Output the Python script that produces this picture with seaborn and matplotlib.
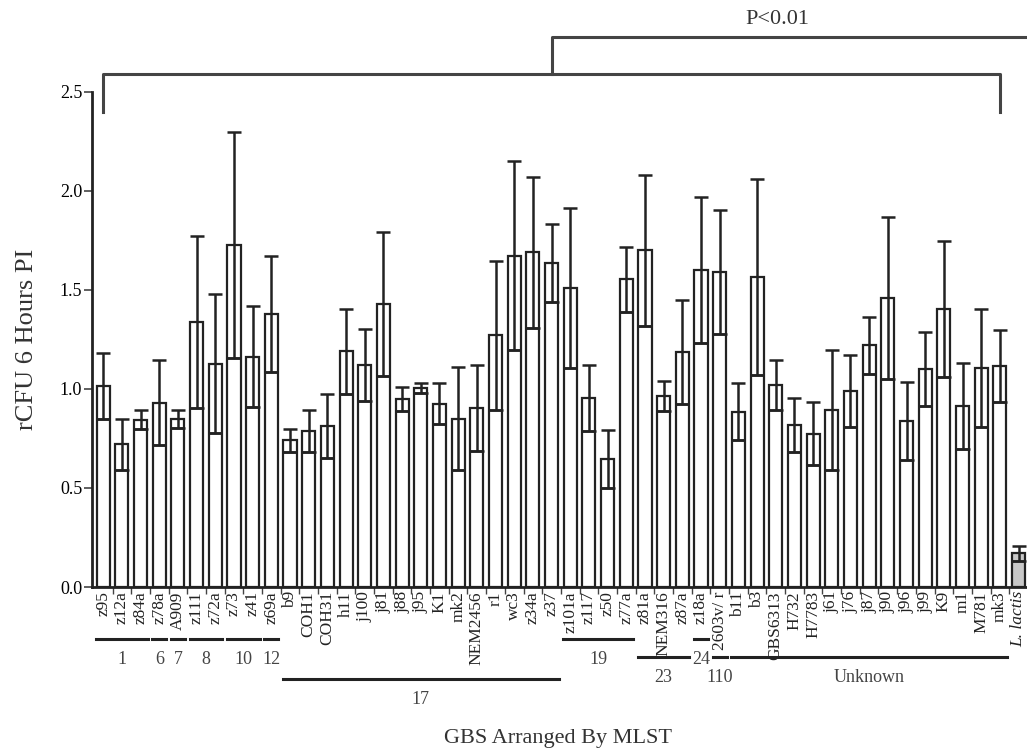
import numpy as np
import pandas as pd
import matplotlib
matplotlib.use("Agg")
import matplotlib.pyplot as plt
import seaborn as sns

# -- data --
strains = ["z95", "z12a", "z84a", "z78a", "A909", "z111", "z72a", "z73", "z41", "z69a",
           "b9", "COH1", "COH31", "h11", "j100", "j81", "j88", "j95", "K1", "mk2",
           "NEM2456", "r1", "wc3", "z34a", "z37", "z101a", "z117", "z50", "z77a", "z81a",
           "NEM316", "z87a", "z18a", "2603v/ r", "b11", "b3", "GBS6313", "H732", "H7783", "j61",
           "j76", "j87", "j90", "j96", "j99", "K9", "m1", "M781", "mk3", "L. lactis"]
rcfu = [1.015, 0.72, 0.845, 0.93, 0.848, 1.338, 1.128, 1.726, 1.163, 1.379,
        0.741, 0.788, 0.815, 1.19, 1.12, 1.428, 0.949, 1.005, 0.926, 0.85,
        0.906, 1.271, 1.672, 1.69, 1.636, 1.51, 0.955, 0.646, 1.554, 1.70,
        0.963, 1.187, 1.601, 1.591, 0.886, 1.564, 1.018, 0.818, 0.774, 0.894,
        0.988, 1.221, 1.46, 0.838, 1.101, 1.404, 0.914, 1.106, 1.116, 0.17]
sem = [0.165, 0.13, 0.048, 0.215, 0.046, 0.435, 0.35, 0.57, 0.255, 0.295,
       0.057, 0.105, 0.162, 0.215, 0.183, 0.363, 0.059, 0.025, 0.103, 0.261,
       0.217, 0.377, 0.477, 0.38, 0.195, 0.402, 0.168, 0.145, 0.163, 0.382,
       0.075, 0.263, 0.37, 0.313, 0.143, 0.495, 0.126, 0.138, 0.16, 0.301,
       0.182, 0.145, 0.41, 0.198, 0.188, 0.343, 0.217, 0.296, 0.18, 0.037]

# MLST groups: label, first strain, last strain, row below the axis
mlst_labels = ["1", "6", "7", "8", "10", "12", "17", "19", "23", "24", "110", "Unknown"]
mlst_first = ["z95", "z78a", "A909", "z111", "z73", "z69a", "b9", "z101a", "z81a", "z18a", "2603v/ r", "b11"]
mlst_last = ["z84a", "z78a", "A909", "z72a", "z41", "z69a", "z37", "z77a", "z87a", "z18a", "2603v/ r", "mk3"]
mlst_row = [0, 0, 0, 0, 0, 0, 2, 0, 1, 0, 1, 1]

df = pd.DataFrame({"strain": strains, "rcfu": rcfu, "sem": sem})
fill = {s: "white" for s in strains}
fill["L. lactis"] = "#c8c8c8"

ink = "#222222"
plt.rcParams["font.family"] = ["Liberation Serif", "DejaVu Serif"]

fig = plt.figure(figsize=(10.27, 7.5), dpi=100)
ax = fig.add_axes([92 / 1027, 1 - 587 / 750, 935 / 1027, 495 / 750])

sns.barplot(data=df, x="strain", y="rcfu", hue="strain", palette=fill, legend=False,
            width=0.7, edgecolor=ink, linewidth=1.6, ax=ax)

xs = np.arange(len(strains))
vals = np.array(rcfu)
errs = np.array(sem)
ax.errorbar(xs, vals, yerr=errs, fmt="none", ecolor=ink, elinewidth=1.8,
            capsize=5, capthick=1.8, zorder=3)
# lower bound drawn across the whole bar
ax.hlines(vals - errs, xs - 0.35, xs + 0.35, color=ink, linewidth=1.8, zorder=3)

ax.set_xlim(-0.6, len(strains) - 0.55)
ax.set_ylim(0, 2.5)
ax.set_yticks([0, 0.5, 1.0, 1.5, 2.0, 2.5])
ax.set_yticklabels(["0.0", "0.5", "1.0", "1.5", "2.0", "2.5"])
ax.tick_params(axis="y", labelsize=13, length=6, width=1.2, color="#444444", pad=1)
ax.tick_params(axis="x", which="major", length=0, labelsize=12.5, rotation=90, pad=3)
ax.set_xticks(xs[:-1] + 0.5, minor=True)
ax.tick_params(axis="x", which="minor", length=5, width=1.0, color="#444444")
for lab in ax.get_xticklabels():
    lab.set_color("#222222")
ax.get_xticklabels()[-1].set_style("italic")
sns.despine(ax=ax)
for side in ["left", "bottom"]:
    ax.spines[side].set_linewidth(2.0)
    ax.spines[side].set_color(ink)
ax.set_xlabel("")
ax.set_ylabel("rCFU 6 Hours PI", fontsize=19, color="#333333", labelpad=16)

# MLST group bars beneath tick labels
trans = ax.get_xaxis_transform()
line_y = [-0.105, -0.141, -0.186]
text_y = [-0.147, -0.183, -0.228]
pos = {s: i for i, s in enumerate(strains)}
for lab, a, b, r in zip(mlst_labels, mlst_first, mlst_last, mlst_row):
    x0, x1 = pos[a] - 0.38, pos[b] + 0.38
    ax.plot([x0, x1], [line_y[r], line_y[r]], color=ink, lw=2.2,
            transform=trans, clip_on=False)
    ax.text((x0 + x1) / 2, text_y[r], lab, transform=trans, ha="center", va="center",
            fontsize=13, color="#444444")

fig.text(558 / 1027, 1 - 738 / 750, "GBS Arranged By MLST", ha="center", va="center",
         fontsize=16, color="#333333")

# significance bracket
gbs_first, gbs_last = 0, len(strains) - 2
mid = (gbs_first + gbs_last) / 2
ax.plot([gbs_first, gbs_first, gbs_last, gbs_last], [2.40, 2.59, 2.59, 2.40],
        color="#444444", lw=2.2, clip_on=False)
ax.plot([mid, mid, len(strains) - 0.4], [2.59, 2.78, 2.78],
        color="#444444", lw=2.2, clip_on=False)
ax.text(36.1, 2.865, "P<0.01", ha="center", va="center", fontsize=16, color="#333333")

fig.savefig("out.png", dpi=100)
